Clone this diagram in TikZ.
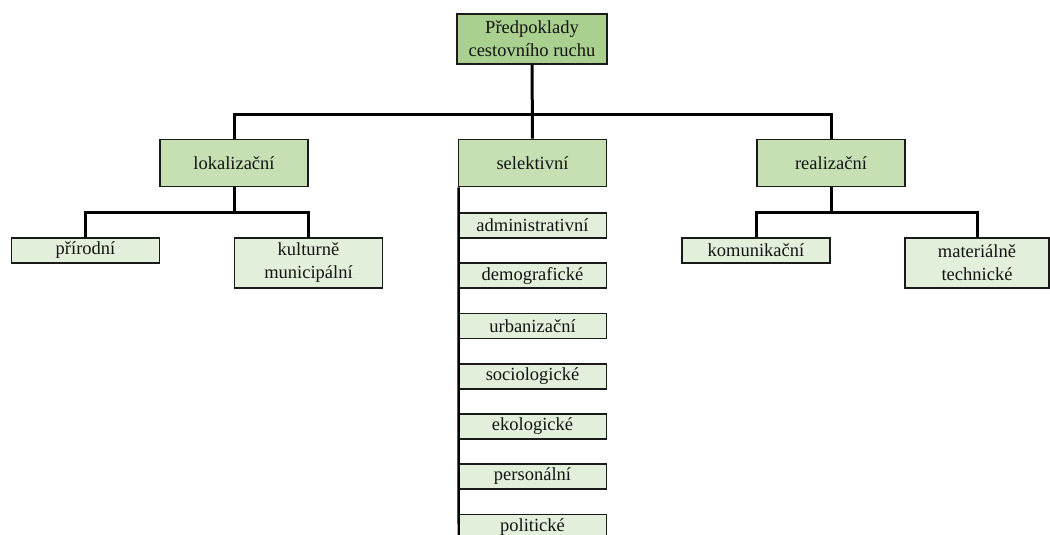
\documentclass[tikz,border=0pt]{standalone}
\usepackage{fontspec}
\setmainfont{Liberation Serif}
\usetikzlibrary{positioning, calc}
\definecolor{topgreen}{HTML}{A9D08E}
\definecolor{midgreen}{HTML}{C6E0B4}
\definecolor{lowgreen}{HTML}{E2EFDA}
\definecolor{linegray}{HTML}{1A1A1A}

\begin{document}
\begin{tikzpicture}[
      x=1pt, y=-1pt,
      every node/.style={font=\fontsize{18.5}{23}\selectfont, text=black!92, inner sep=0pt},
      rootbox/.style={draw=linegray, line width=1.8pt, fill=topgreen,
                      minimum width=150pt, minimum height=50pt, align=center},
      catbox/.style={draw=linegray, line width=1.8pt, fill=midgreen,
                     minimum width=148pt, minimum height=47pt, align=center},
      subbox/.style={draw=linegray, line width=1.6pt, fill=lowgreen,
                     minimum width=148pt, minimum height=25pt, align=center},
      tallbox/.style={subbox, minimum height=50pt},
      link/.style={draw=black, line width=3pt},
    ]
    \useasboundingbox (0,0) rectangle (1050,535);
    \clip (0,0) rectangle (1050,535);

    % Root
    \node[rootbox] (root) at (532,39) {Předpoklady\\cestovního ruchu};
    % Categories
    \node[catbox] (lok)  at (234,163)   {lokalizační};
    \node[catbox] (sel)  at (532.5,163) {selektivní};
    \node[catbox] (real) at (831,163)   {realizační};
    % Junctions
    \coordinate (j0) at (532,114);
    \coordinate (j1) at (0,212);

    % lokalizační
    \node[subbox]  (prir) at (85.5,250.5) {přírodní};
    \node[tallbox] (kult) at (308.5,263)  {kulturně\\municipální};
    % realizační
    \node[subbox]  (kom)  at (756,250.5)  {komunikační};
    \node[tallbox, minimum width=144pt] (mat) at (977,263) {materiálně\\technické};

    % selektivní
    \node[subbox] (s1) at (532.5,225.5) {administrativní};
    \node[subbox] (s2) at (532.5,275.5) {demografické};
    \node[subbox] (s3) at (532.5,326)   {urbanizační};
    \node[subbox] (s4) at (532.5,376.5) {sociologické};
    \node[subbox] (s5) at (532.5,426.5) {ekologické};
    \node[subbox] (s6) at (532.5,476.5) {personální};
    \node[subbox] (s7) at (532.5,527)   {politické};

    \draw[link] (root) -- (sel);
    \draw[link] (lok.north) -- (lok.north |- j0) -- (real.north |- j0) -- (real.north);
    \draw[link] (lok) -- (lok.south |- j1);
    \draw[link] (prir.north) -- (prir.north |- j1) -| (kult.north);
    \draw[link] (real) -- (real.south |- j1);
    \draw[link] (kom.north) -- (kom.north |- j1) -| (mat.north);
    \draw[link, line width=2.4pt] ($(sel.south west)+(1,0)$) -- ($(s7.south west)+(1,0)$);
  \end{tikzpicture}
\end{document}
